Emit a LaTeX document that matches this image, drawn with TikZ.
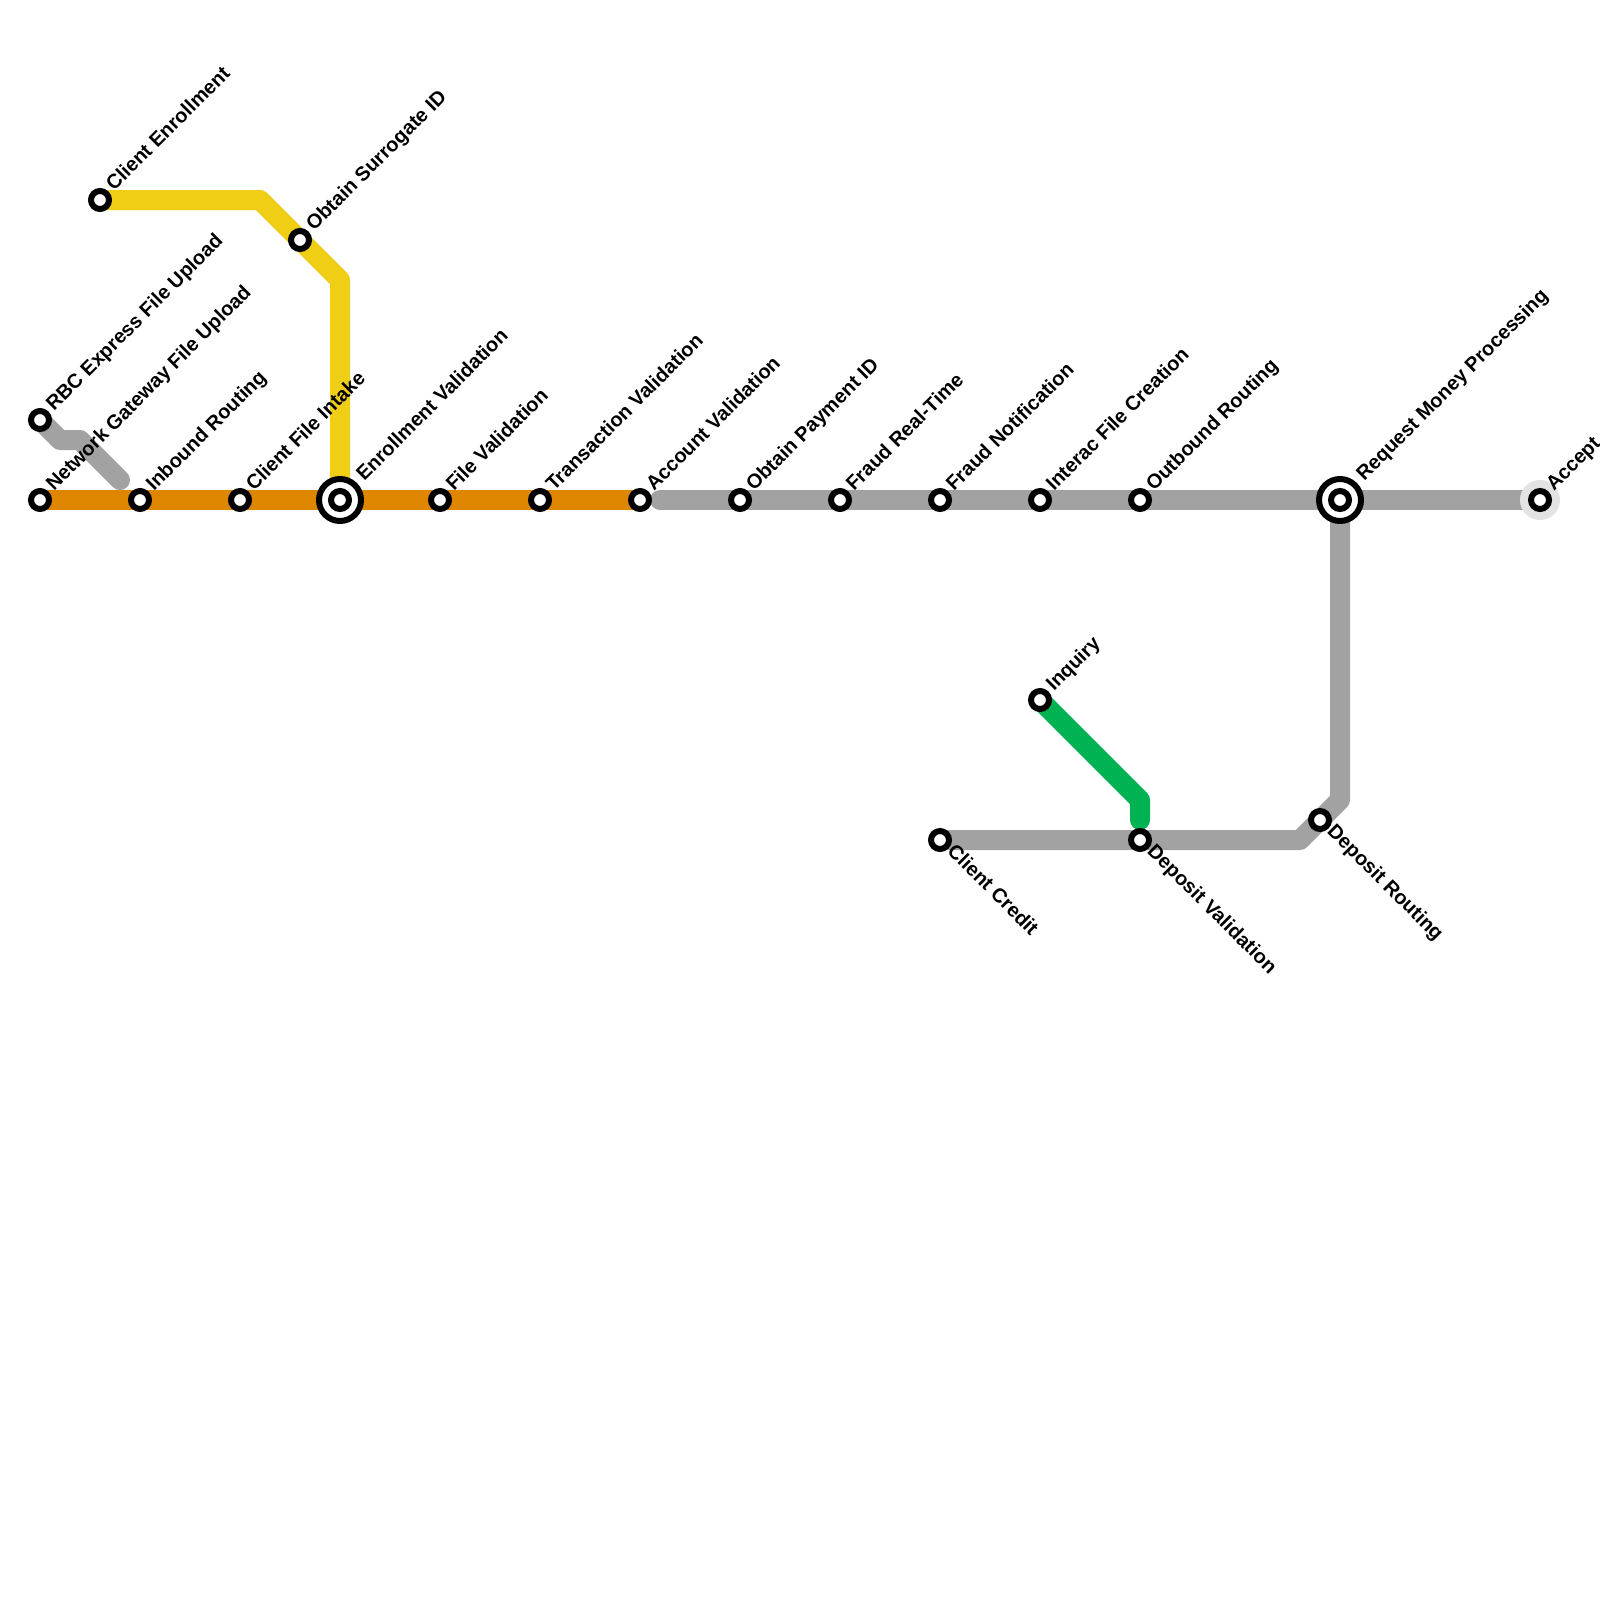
\documentclass[tikz,border=0pt]{standalone}
\usepackage{fontspec}
\setmainfont{Liberation Sans}
\usetikzlibrary{backgrounds}
\definecolor{lgrey}{HTML}{A2A2A2}
\definecolor{lorange}{HTML}{DF8600}
\definecolor{lyellow}{HTML}{F0CE15}
\definecolor{lgreen}{HTML}{00B251}
\definecolor{halo}{HTML}{E3E3E3}
\tikzset{
  x=1pt,y=-1pt,
  metro/.style={line width=20pt,line cap=round,line join=round},
  stn/.style={circle,draw=black,fill=white,line width=6pt,minimum size=18pt,inner sep=0pt,outer sep=0pt},
  bigstn/.style={circle,draw=black,fill=white,line width=6pt,minimum size=42pt,inner sep=0pt,outer sep=0pt},
  lab/.style={font=\bfseries\fontsize{20}{20}\selectfont,inner sep=0pt,text=black},
  lblup/.style={lab,rotate=45,anchor=base west,xshift=15.5pt,yshift=-4.2pt},
  lblbig/.style={lab,rotate=45,anchor=base west,xshift=30pt,yshift=-4.2pt},
  lbldown/.style={lab,rotate=-45,anchor=base west,xshift=13pt,yshift=-4.2pt},
  waypt/.style={inner sep=0pt,outer sep=0pt,minimum size=0pt}
}
\newcommand{\stnlabel}[3][lblup]{\node[#1] at (#2) {#3};}
\begin{document}
\begin{tikzpicture}
\path[use as bounding box] (0,0) rectangle (1600,1600);
\clip (0,0) rectangle (1600,1600);

\node[circle,fill=halo,minimum size=40pt,inner sep=0pt] (halo) at (1540,500) {};

% stations
\node[stn] (rbc) at (40,420) {};
\node[stn] (net) at (40,500) {};
\node[stn] (inb) at (140,500) {};
\node[stn] (cfi) at (240,500) {};
\node[bigstn] (env) at (340,500) {};
\node[stn] (env2) at (340,500) {};
\node[stn] (fval) at (440,500) {};
\node[stn] (tval) at (540,500) {};
\node[stn] (aval) at (640,500) {};
\node[stn] (opay) at (740,500) {};
\node[stn] (frt) at (840,500) {};
\node[stn] (fno) at (940,500) {};
\node[stn] (ifc) at (1040,500) {};
\node[stn] (out) at (1140,500) {};
\node[bigstn] (req) at (1340,500) {};
\node[stn] (req2) at (1340,500) {};
\node[stn] (acc) at (1540,500) {};
\node[stn] (cen) at (100,200) {};
\node[stn] (osi) at (300,240) {};
\node[stn] (inq) at (1040,700) {};
\node[stn] (ccr) at (940,840) {};
\node[stn] (dval) at (1140,840) {};
\node[stn] (drt) at (1320,820) {};

% bends
\node[waypt] (g1) at (60,440) {};
\node[waypt] (g2) at (80,440) {};
\node[waypt] (g3) at (120,480) {};
\node[waypt] (y1) at (260,200) {};
\node[waypt] (y2) at (340,280) {};
\node[waypt] (g4) at (660,500) {};
\node[waypt] (g5) at (1340,800) {};
\node[waypt] (g6) at (1300,840) {};
\node[waypt] (v1) at (1140,800) {};
\node[waypt] (v2) at (1140,820) {};

\begin{scope}[on background layer]
\fill[white] (0,0) rectangle (1600,1600);
\draw[metro,lgrey] (rbc.center) -- (g1.center) -- (g2.center) -- (g3.center);
\draw[metro,lgrey] (g4.center) -- (acc.center);
\draw[metro,lgrey] (req.center) -- (g5.center) -- (g6.center) -- (ccr.center);
\draw[metro,lorange,line cap=butt] (net.center) -- (aval.center);
\draw[metro,lyellow,line cap=butt] (cen.center) -- (y1.center) -- (y2.center) -- (env.center);
\draw[metro,lgreen] (inq.center) -- (v1.center) -- (v2.center);
\end{scope}

% labels
\stnlabel{rbc}{RBC Express File Upload}
\stnlabel{net}{Network Gateway File Upload}
\stnlabel{inb}{Inbound Routing}
\stnlabel{cfi}{Client File Intake}
\stnlabel[lblbig]{env}{Enrollment Validation}
\stnlabel{fval}{File Validation}
\stnlabel{tval}{Transaction Validation}
\stnlabel{aval}{Account Validation}
\stnlabel{opay}{Obtain Payment ID}
\stnlabel{frt}{Fraud Real-Time}
\stnlabel{fno}{Fraud Notification}
\stnlabel{ifc}{Interac File Creation}
\stnlabel{out}{Outbound Routing}
\stnlabel[lblbig]{req}{Request Money Processing}
\stnlabel{acc}{Accept}
\stnlabel{cen}{Client Enrollment}
\stnlabel{osi}{Obtain Surrogate ID}
\stnlabel{inq}{Inquiry}
\stnlabel[lbldown]{ccr}{Client Credit}
\stnlabel[lbldown]{dval}{Deposit Validation}
\stnlabel[lbldown]{drt}{Deposit Routing}
\end{tikzpicture}
\end{document}
